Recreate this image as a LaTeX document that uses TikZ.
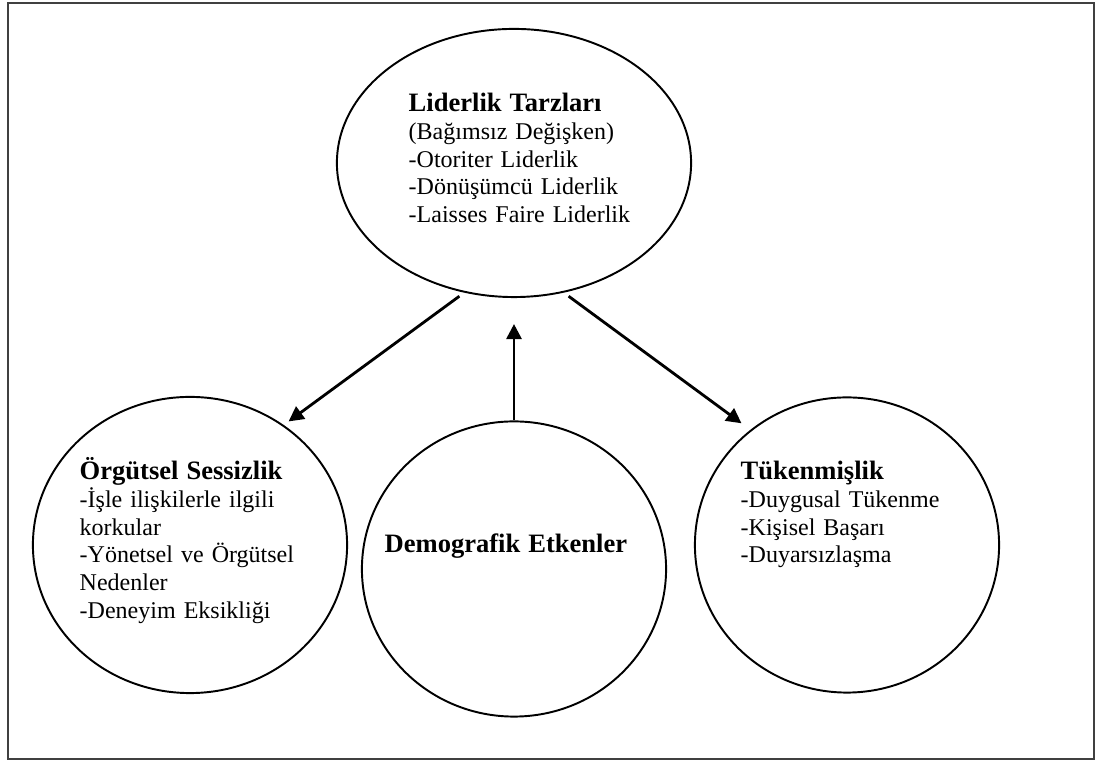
\documentclass[tikz,border=0pt]{standalone}
\usepackage{fontspec}
\setmainfont{Liberation Serif}
\usetikzlibrary{arrows.meta,shapes.geometric}
\newcommand{\mytitlefont}{\fontsize{7.55}{7.85}\selectfont\bfseries}
\tikzset{
  oval/.style={draw, ellipse, line width=0.55pt, inner sep=0pt},
  arr/.style={line width=0.8pt, -{Triangle[length=0.15cm,width=0.15cm]}},
  txt/.style={anchor=base west, inner sep=0pt, text width=3cm, align=left,
              font=\fontsize{6.83}{7.85}\selectfont},
  frame/.style={draw=black!75, line width=0.7pt}
}
\begin{document}
\begin{tikzpicture}[x=0.01cm,y=-0.01cm]
\useasboundingbox (0,0) rectangle (1103,765);
\draw[frame] (8,3) rectangle (1094,759);

\node[oval, minimum width=3.54cm, minimum height=2.68cm] (top) at (514,163) {};
\node[oval, minimum width=3.14cm, minimum height=2.96cm] (left) at (190,545) {};
\node[oval, minimum width=3.04cm, minimum height=2.95cm] (mid) at (514,569) {};
\node[oval, minimum width=3.04cm, minimum height=2.95cm] (right) at (847,545) {};

\node[txt] (ttop) at (408,112) {{\mytitlefont Liderlik Tarzları}\\(Bağımsız Değişken)\\-Otoriter Liderlik\\-Dönüşümcü Liderlik\\-Laisses Faire Liderlik};
\node[txt] (tleft) at (79,480) {{\mytitlefont Örgütsel Sessizlik}\\-İşle ilişkilerle ilgili\\korkular\\-Yönetsel ve Örgütsel\\Nedenler\\-Deneyim Eksikliği};
\node[txt] (tright) at (740,480) {{\mytitlefont Tükenmişlik}\\-Duygusal Tükenme\\-Kişisel Başarı\\-Duyarsızlaşma};
\node[txt] (tmid) at (384,553) {{\mytitlefont Demografik Etkenler}};

\draw[arr, shorten <=0.06cm, shorten >=0.06cm] (top.249) -- (left.52);
\draw[arr, shorten <=0.06cm, shorten >=0.11cm] (top.291) -- (right.130);
\draw[arr, shorten >=0.26cm] (mid.north) -- (top.south);
\end{tikzpicture}
\end{document}
